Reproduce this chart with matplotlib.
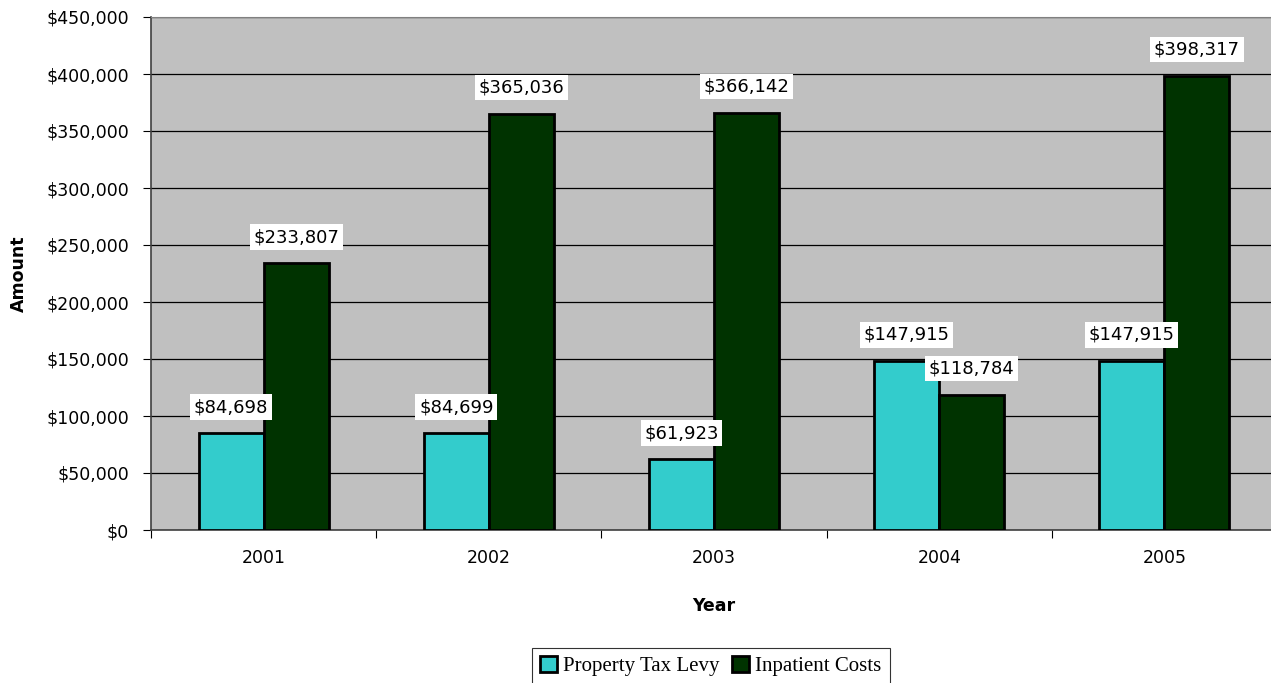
import matplotlib.pyplot as plt
import numpy as np
from matplotlib.ticker import FuncFormatter

years = ['2001', '2002', '2003', '2004', '2005']
property_tax_levy = [84698, 84699, 61923, 147915, 147915]
inpatient_costs = [233807, 365036, 366142, 118784, 398317]
series_names = ['Property Tax Levy', 'Inpatient Costs']

W, H = 1271, 683
fig = plt.figure(figsize=(W / 100, H / 100), dpi=100)
# plot area runs a bit past the right edge, like the original
ax = fig.add_axes([151 / W, 1 - 530 / H, 1126 / W, 513 / H])
ax.set_facecolor('#C0C0C0')

x = np.arange(len(years))
bw = 0.289
b1 = ax.bar(x - bw / 2, property_tax_levy, bw, color='#33CCCC', edgecolor='black', linewidth=2, label=series_names[0], zorder=3)
b2 = ax.bar(x + bw / 2, inpatient_costs, bw, color='#003300', edgecolor='black', linewidth=2, label=series_names[1], zorder=3)

ax.set_xlim(-0.5, 4.5)
ax.set_ylim(0, 450000)
ax.set_yticks(np.arange(0, 450001, 50000))
ax.yaxis.set_major_formatter(FuncFormatter(lambda v, p: '${:,.0f}'.format(v)))
ax.set_xticks(np.arange(-0.5, 5, 1))
ax.set_xticklabels([])
ax.set_xticks(x, minor=True)
ax.set_xticklabels(years, minor=True)
ax.tick_params(axis='x', which='minor', length=0, pad=14, labelsize=12.5)
ax.tick_params(axis='x', which='major', length=6, direction='out')
ax.tick_params(axis='y', length=6, direction='out', labelsize=12.5, pad=10)
ax.grid(axis='y', color='black', linewidth=0.9, zorder=0)

for s in ['top', 'right']:
    ax.spines[s].set_color('#808080')
for s in ['left', 'bottom']:
    ax.spines[s].set_color('#404040')
    ax.spines[s].set_linewidth(1.2)

for bars in (b1, b2):
    for r in bars:
        v = r.get_height()
        ax.annotate('${:,.0f}'.format(v), (r.get_x() + r.get_width() / 2, v),
                    xytext=(0, 19), textcoords='offset points', ha='center', va='center',
                    fontsize=13, zorder=5,
                    bbox=dict(boxstyle='square,pad=0.2', fc='white', ec='none'))

ax.set_ylabel('Amount', fontsize=12.5, fontweight='bold')
ax.set_xlabel('Year', fontsize=12.5, fontweight='bold')
ax.yaxis.set_label_coords(-123 / 1126, 0.5)
ax.xaxis.set_label_coords((714 - 151) / 1126, -(597 - 530) / 513)

leg = fig.legend(handles=[b1, b2], loc='center', bbox_to_anchor=(711 / W, 1 - 666 / H),
                 ncol=2, frameon=True, fancybox=False, edgecolor='black',
                 prop={'family': 'Liberation Serif', 'size': 15},
                 handlelength=0.8, handleheight=0.8, handletextpad=0.3, columnspacing=0.6,
                 borderpad=0.4)
leg.get_frame().set_linewidth(0.8)

fig.savefig('out.png', dpi=100)
